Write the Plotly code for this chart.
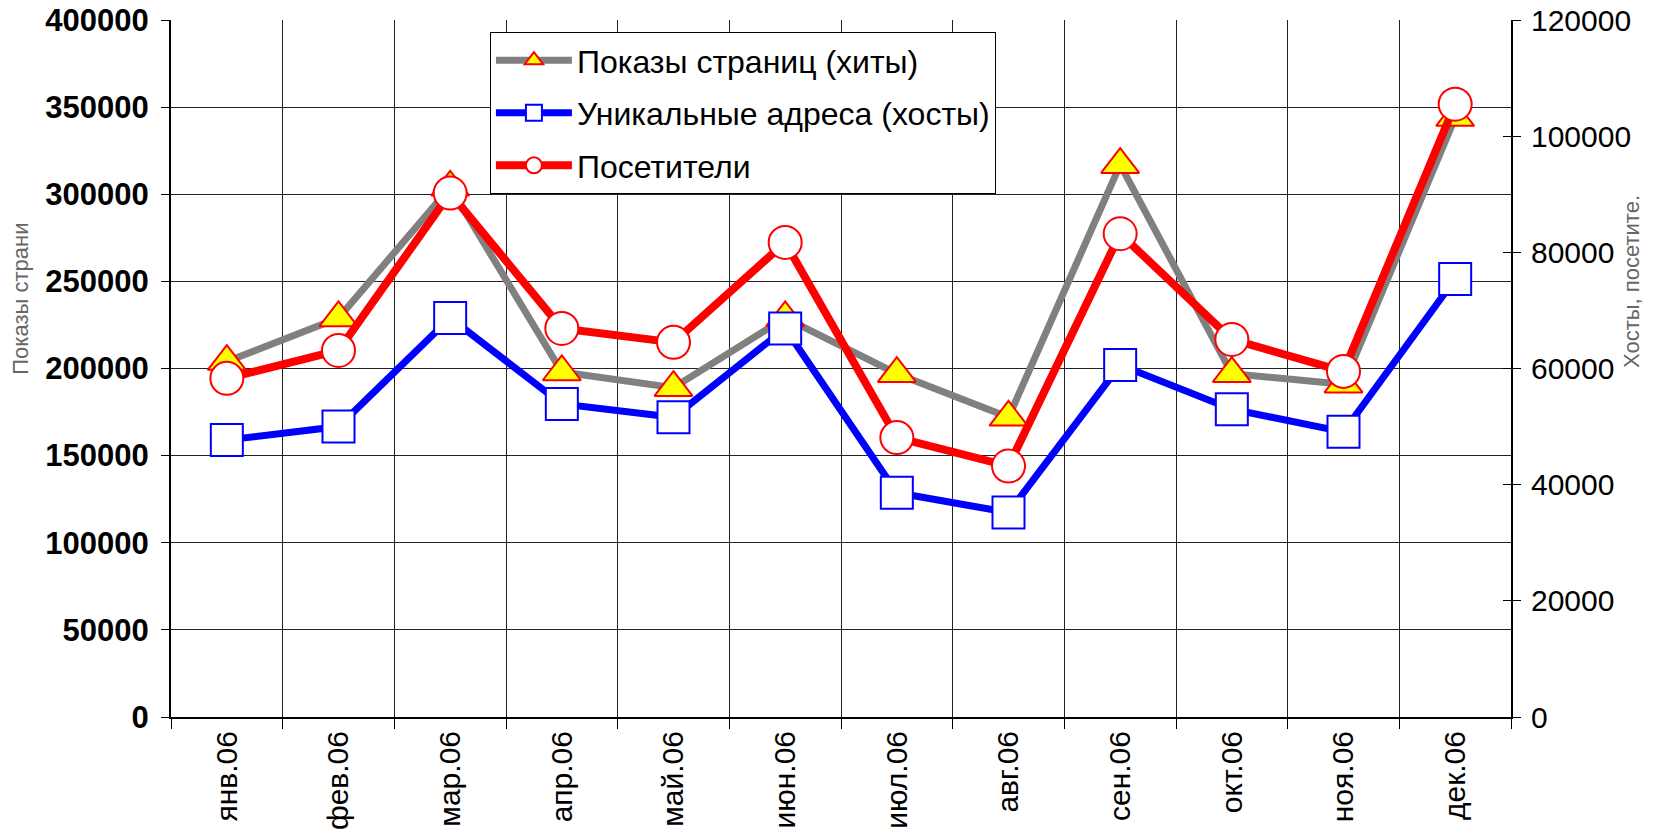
import plotly.graph_objects as go

months = ["янв.06", "фев.06", "мар.06", "апр.06", "май.06", "июн.06",
          "июл.06", "авг.06", "сен.06", "окт.06", "ноя.06", "дек.06"]
hits = [204000, 229000, 304000, 198000, 189000, 229000,
        197000, 172000, 317000, 197000, 191000, 344000]
hosts = [47700, 50000, 68700, 53900, 51600, 66900,
         38600, 35200, 60600, 53000, 49100, 75400]
visitors = [58300, 63100, 90200, 66900, 64500, 81700,
            48100, 43200, 83200, 65000, 59500, 105500]

left_ticks = [0, 50000, 100000, 150000, 200000, 250000, 300000, 350000, 400000]
right_ticks = [0, 20000, 40000, 60000, 80000, 100000, 120000]

FONT = "Liberation Sans, Arial, sans-serif"
NARROW = "Liberation Sans Narrow, Arial Narrow, Liberation Sans, sans-serif"

fig = go.Figure()
fig.add_trace(go.Scatter(
    x=months, y=hits, name="Показы страниц (хиты)", yaxis="y",
    mode="lines+markers", legendgroup="a",
    line=dict(color="#808080", width=7),
    marker=dict(symbol="triangle-up", size=33, color="#ffff00",
                line=dict(color="#ff0000", width=2)),
))
fig.add_trace(go.Scatter(
    x=months, y=hosts, name="Уникальные адреса (хосты)", yaxis="y2",
    mode="lines+markers", legendgroup="b",
    line=dict(color="#0000ff", width=7),
    marker=dict(symbol="square", size=32, color="#ffffff",
                line=dict(color="#0000ff", width=2)),
))
fig.add_trace(go.Scatter(
    x=months, y=visitors, name="Посетители", yaxis="y2",
    mode="lines+markers", legendgroup="c",
    line=dict(color="#ff0000", width=8),
    marker=dict(symbol="circle", size=33, color="#ffffff",
                line=dict(color="#ff0000", width=2)),
))

fig.update_layout(
    width=1677, height=836,
    margin=dict(l=171, r=166, t=20, b=119, autoexpand=False),
    paper_bgcolor="white", plot_bgcolor="white",
    font=dict(family=FONT, color="black"),
    showlegend=True,
    legend=dict(
        x=0.238, y=0.983, xanchor="left", yanchor="top",
        bgcolor="white", bordercolor="black", borderwidth=1,
        font=dict(family=FONT, size=32, color="black"),
        tracegroupgap=8, itemwidth=76,
    ),
    xaxis=dict(
        type="category", tickson="boundaries", automargin=False,
        showgrid=True, gridcolor="#222222", gridwidth=1,
        showline=True, linecolor="black", linewidth=2,
        ticks="outside", ticklen=10, tickcolor="black", tickwidth=1,
        tickangle=-90, tickfont=dict(family=FONT, size=30, color="black"),
        range=[-0.5, 11.5], mirror=False,
    ),
    yaxis=dict(
        range=[0, 400000], tickvals=left_ticks, automargin=False,
        ticktext=[str(v) for v in left_ticks],
        showgrid=True, gridcolor="#222222", gridwidth=1,
        showline=True, linecolor="black", linewidth=2,
        ticks="outside", ticklen=8, tickcolor="black",
        tickfont=dict(family=FONT, size=31, color="black", weight="bold"),
        ticklabelstandoff=6, zeroline=False,
    ),
    yaxis2=dict(
        range=[0, 120000], tickvals=right_ticks, automargin=False,
        ticktext=[str(v) for v in right_ticks],
        overlaying="y", side="right", showgrid=False,
        showline=True, linecolor="black", linewidth=2,
        ticks="outside", ticklen=8, tickcolor="black",
        tickfont=dict(family=FONT, size=30, color="black"),
        ticklabelstandoff=4, zeroline=False,
    ),
    yaxis3=dict(
        range=[0, 120000], tickvals=right_ticks, automargin=False,
        overlaying="y", side="right", showgrid=False, showline=False,
        ticks="inside", ticklen=8, tickcolor="black",
        showticklabels=False, zeroline=False,
    ),
    annotations=[
        dict(text="Показы страни", xref="paper", yref="paper",
             x=-0.112, y=0.6, xanchor="center", yanchor="middle",
             textangle=-90, showarrow=False,
             font=dict(family=NARROW, size=22, color="#666666")),
        dict(text="Хосты, посетите.", xref="paper", yref="paper",
             x=1.09, y=0.625, xanchor="center", yanchor="middle",
             textangle=-90, showarrow=False,
             font=dict(family=NARROW, size=22, color="#666666")),
    ],
)

# invisible trace to activate the tick-only third axis
fig.add_trace(go.Scatter(x=[months[0]], y=[None], yaxis="y3",
                         showlegend=False, hoverinfo="skip"))

fig.write_html("out.html", include_plotlyjs=True,
               config={"displayModeBar": False},
               post_script="document.body.style.margin='0';document.body.style.overflow='hidden';")
